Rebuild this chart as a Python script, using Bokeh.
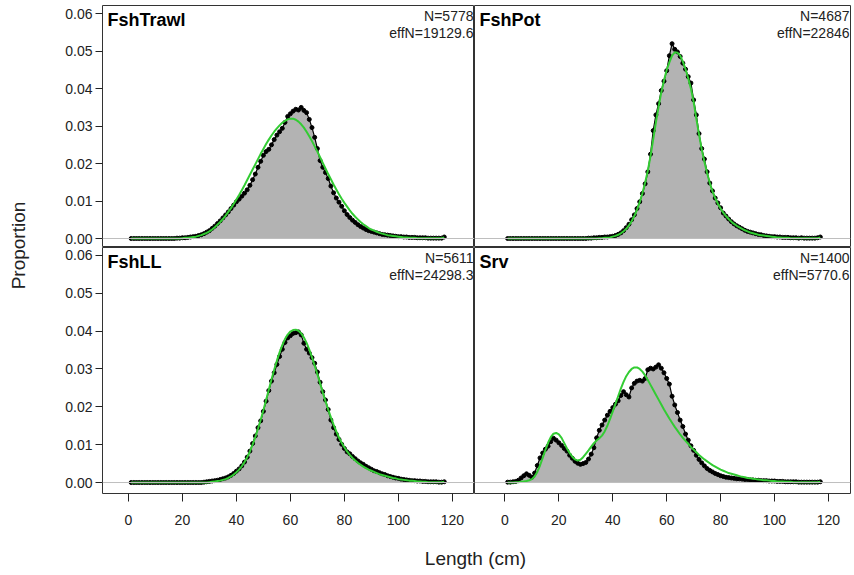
from bokeh.plotting import figure
from bokeh.layouts import row, column
from bokeh.models import Span, Label, FixedTicker, PrintfTickFormatter, Range1d
from bokeh.embed import file_html
from bokeh.resources import INLINE

lengths = list(range(1, 118))
fleets = ["FshTrawl", "FshPot", "FshLL", "Srv"]
n_samples = [5778, 4687, 5611, 1400]
eff_n = [19129.6, 22846, 24298.3, 5770.6]
x_ticks = [0, 20, 40, 60, 80, 100, 120]
y_ticks = [0.00, 0.01, 0.02, 0.03, 0.04, 0.05, 0.06]

trawl_obs = [
    0, 0, 0, 0, 0, 0, 0, 0, 0, 0,
    0, 0, 0, 0, 0, 0, 0, 0.0001, 0.0001, 0.0002,
    0.0002, 0.0003, 0.0004, 0.0005, 0.0006, 0.0008, 0.0010, 0.0013, 0.0017, 0.0021,
    0.0027, 0.0033, 0.0040, 0.0047, 0.0055, 0.0063, 0.0071, 0.0080, 0.0089, 0.0098,
    0.0105, 0.0113, 0.0121, 0.0130, 0.0142, 0.0157, 0.0172, 0.0190, 0.0206, 0.0222,
    0.0232, 0.0238, 0.0250, 0.0264, 0.0276, 0.0285, 0.0294, 0.0310, 0.0326, 0.0333,
    0.0340, 0.0345, 0.0343, 0.0350, 0.0342, 0.0336, 0.0318, 0.0296, 0.0270, 0.0240,
    0.0208, 0.0190, 0.0176, 0.0160, 0.0140, 0.0122, 0.0108, 0.0097, 0.0086, 0.0074,
    0.0064, 0.0056, 0.0049, 0.0043, 0.0037, 0.0032, 0.0028, 0.0024, 0.0021, 0.0019,
    0.0017, 0.0015, 0.0013, 0.0011, 0.0010, 0.0009, 0.0008, 0.0007, 0.0006, 0.0005,
    0.0005, 0.0004, 0.0004, 0.0003, 0.0003, 0.0003, 0.0002, 0.0002, 0.0002, 0.0002,
    0.0001, 0.0001, 0.0001, 0.0001, 0.0001, 0.0001, 0.0004,
]
trawl_exp = [
    0, 0, 0, 0, 0, 0, 0, 0, 0, 0,
    0, 0, 0, 0, 0, 0, 0, 0, 0, 0.0001,
    0.0002, 0.0002, 0.0003, 0.0004, 0.0005, 0.0007, 0.0009, 0.0012, 0.0015, 0.0019,
    0.0024, 0.0030, 0.0037, 0.0044, 0.0052, 0.0061, 0.0071, 0.0081, 0.0092, 0.0104,
    0.0116, 0.0129, 0.0142, 0.0156, 0.0170, 0.0184, 0.0198, 0.0212, 0.0226, 0.0239,
    0.0252, 0.0264, 0.0275, 0.0285, 0.0294, 0.0302, 0.0309, 0.0314, 0.0318, 0.0320,
    0.0320, 0.0317, 0.0312, 0.0305, 0.0296, 0.0285, 0.0273, 0.0260, 0.0246, 0.0232,
    0.0217, 0.0202, 0.0187, 0.0172, 0.0158, 0.0144, 0.0131, 0.0118, 0.0106, 0.0095,
    0.0085, 0.0075, 0.0066, 0.0058, 0.0051, 0.0044, 0.0038, 0.0033, 0.0028, 0.0024,
    0.0021, 0.0018, 0.0015, 0.0013, 0.0011, 0.0009, 0.0008, 0.0007, 0.0006, 0.0005,
    0.0004, 0.0003, 0.0003, 0.0002, 0.0002, 0.0002, 0.0001, 0.0001, 0.0001, 0.0001,
    0.0001, 0.0001, 0.0001, 0.0001, 0.0001, 0.0001, 0.0003,
]
pot_obs = [
    0, 0, 0, 0, 0, 0, 0, 0, 0, 0,
    0, 0, 0, 0, 0, 0, 0, 0, 0, 0,
    0, 0, 0, 0, 0, 0, 0, 0, 0, 0,
    0.0001, 0.0001, 0.0002, 0.0002, 0.0003, 0.0003, 0.0004, 0.0004, 0.0005, 0.0006,
    0.0008, 0.0011, 0.0015, 0.0021, 0.0029, 0.0038, 0.0050, 0.0063, 0.0080, 0.0098,
    0.0120, 0.0146, 0.0178, 0.0225, 0.0288, 0.0330, 0.0360, 0.0395, 0.0420, 0.0448,
    0.0488, 0.0520, 0.0505, 0.0498, 0.0486, 0.0468, 0.0452, 0.0432, 0.0415, 0.0370,
    0.0330, 0.0280, 0.0240, 0.0212, 0.0178, 0.0148, 0.0127, 0.0108, 0.0095, 0.0082,
    0.0068, 0.0060, 0.0052, 0.0045, 0.0039, 0.0034, 0.0030, 0.0026, 0.0022, 0.0019,
    0.0017, 0.0015, 0.0013, 0.0011, 0.0010, 0.0008, 0.0007, 0.0006, 0.0005, 0.0005,
    0.0004, 0.0004, 0.0003, 0.0003, 0.0003, 0.0002, 0.0002, 0.0002, 0.0001, 0.0002,
    0.0001, 0.0001, 0.0001, 0.0001, 0.0001, 0.0002, 0.0004,
]
pot_exp = [
    0, 0, 0, 0, 0, 0, 0, 0, 0, 0,
    0, 0, 0, 0, 0, 0, 0, 0, 0, 0,
    0, 0, 0, 0, 0, 0, 0, 0, 0, 0,
    0, 0, 0, 0, 0.0001, 0.0001, 0.0002, 0.0002, 0.0003, 0.0005,
    0.0007, 0.0010, 0.0014, 0.0019, 0.0026, 0.0035, 0.0046, 0.0060, 0.0077, 0.0097,
    0.0121, 0.0149, 0.0181, 0.0220, 0.0265, 0.0310, 0.0352, 0.0390, 0.0422, 0.0450,
    0.0470, 0.0488, 0.0497, 0.0496, 0.0488, 0.0472, 0.0452, 0.0428, 0.0400, 0.0365,
    0.0320, 0.0278, 0.0238, 0.0205, 0.0175, 0.0148, 0.0126, 0.0108, 0.0093, 0.0080,
    0.0069, 0.0060, 0.0052, 0.0045, 0.0039, 0.0034, 0.0030, 0.0026, 0.0022, 0.0019,
    0.0016, 0.0014, 0.0012, 0.0010, 0.0009, 0.0008, 0.0007, 0.0006, 0.0005, 0.0004,
    0.0003, 0.0003, 0.0002, 0.0002, 0.0002, 0.0001, 0.0001, 0.0001, 0.0001, 0.0001,
    0.0001, 0.0001, 0.0001, 0.0001, 0.0001, 0.0001, 0.0003,
]
ll_obs = [
    0, 0, 0, 0, 0, 0, 0, 0, 0, 0,
    0, 0, 0, 0, 0, 0, 0, 0, 0, 0,
    0, 0, 0, 0, 0, 0, 0, 0.0001, 0.0002, 0.0003,
    0.0004, 0.0005, 0.0006, 0.0008, 0.0010, 0.0012, 0.0015, 0.0019, 0.0024, 0.0030,
    0.0036, 0.0044, 0.0054, 0.0067, 0.0083, 0.0103, 0.0123, 0.0145, 0.0163, 0.0188,
    0.0215, 0.0243, 0.0268, 0.0290, 0.0312, 0.0333, 0.0352, 0.0370, 0.0382, 0.0388,
    0.0394, 0.0396, 0.0398, 0.0390, 0.0368, 0.0352, 0.0342, 0.0330, 0.0315, 0.0292,
    0.0265, 0.0240, 0.0218, 0.0193, 0.0165, 0.0145, 0.0128, 0.0114, 0.0101, 0.0090,
    0.0081, 0.0076, 0.0069, 0.0063, 0.0057, 0.0052, 0.0048, 0.0043, 0.0039, 0.0035,
    0.0031, 0.0029, 0.0026, 0.0023, 0.0021, 0.0018, 0.0016, 0.0014, 0.0012, 0.0011,
    0.0009, 0.0008, 0.0007, 0.0006, 0.0005, 0.0005, 0.0004, 0.0004, 0.0003, 0.0003,
    0.0002, 0.0002, 0.0002, 0.0002, 0.0001, 0.0001, 0.0002,
]
ll_exp = [
    0, 0, 0, 0, 0, 0, 0, 0, 0, 0,
    0, 0, 0, 0, 0, 0, 0, 0, 0, 0,
    0, 0, 0, 0, 0, 0, 0, 0, 0, 0.0001,
    0.0002, 0.0003, 0.0004, 0.0005, 0.0007, 0.0009, 0.0012, 0.0016, 0.0021, 0.0027,
    0.0034, 0.0043, 0.0054, 0.0067, 0.0082, 0.0100, 0.0120, 0.0142, 0.0166, 0.0191,
    0.0218, 0.0245, 0.0272, 0.0298, 0.0322, 0.0344, 0.0363, 0.0379, 0.0391, 0.0399,
    0.0403, 0.0404, 0.0401, 0.0394, 0.0383, 0.0369, 0.0351, 0.0331, 0.0309, 0.0286,
    0.0262, 0.0238, 0.0215, 0.0193, 0.0172, 0.0153, 0.0135, 0.0119, 0.0105, 0.0093,
    0.0082, 0.0073, 0.0065, 0.0058, 0.0052, 0.0047, 0.0042, 0.0038, 0.0034, 0.0031,
    0.0028, 0.0025, 0.0022, 0.0020, 0.0018, 0.0016, 0.0014, 0.0012, 0.0011, 0.0009,
    0.0008, 0.0007, 0.0006, 0.0005, 0.0005, 0.0004, 0.0003, 0.0003, 0.0002, 0.0002,
    0.0001, 0.0001, 0.0001, 0.0001, 0.0001, 0.0001, 0.0002,
]
srv_obs = [
    0.0001, 0.0001, 0.0002, 0.0003, 0.0006, 0.0012, 0.0018, 0.0023, 0.0019, 0.0014,
    0.0025, 0.0045, 0.0065, 0.0078, 0.0088, 0.0096, 0.0108, 0.0117, 0.0112, 0.0105,
    0.0098, 0.0090, 0.0083, 0.0072, 0.0064, 0.0056, 0.0051, 0.0048, 0.0050, 0.0053,
    0.0062, 0.0075, 0.0092, 0.0118, 0.0138, 0.0152, 0.0165, 0.0178, 0.0188, 0.0198,
    0.0207, 0.0216, 0.0230, 0.0240, 0.0232, 0.0226, 0.0250, 0.0262, 0.0268, 0.0270,
    0.0268, 0.0275, 0.0298, 0.0302, 0.0300, 0.0305, 0.0311, 0.0302, 0.0290, 0.0275,
    0.0260, 0.0228, 0.0205, 0.0185, 0.0165, 0.0148, 0.0128, 0.0112, 0.0097, 0.0085,
    0.0072, 0.0061, 0.0052, 0.0044, 0.0037, 0.0032, 0.0028, 0.0024, 0.0021, 0.0018,
    0.0016, 0.0014, 0.0013, 0.0012, 0.0011, 0.0010, 0.0010, 0.0009, 0.0008, 0.0008,
    0.0007, 0.0007, 0.0006, 0.0006, 0.0005, 0.0005, 0.0005, 0.0004, 0.0004, 0.0004,
    0.0003, 0.0003, 0.0003, 0.0002, 0.0002, 0.0002, 0.0002, 0.0002, 0.0001, 0.0001,
    0.0001, 0.0001, 0.0001, 0.0001, 0.0001, 0.0001, 0.0002,
]
srv_exp = [
    0, 0, 0, 0.0001, 0.0001, 0.0002, 0.0003, 0.0004, 0.0006, 0.0009,
    0.0016, 0.0028, 0.0045, 0.0065, 0.0086, 0.0105, 0.0120, 0.0129, 0.0131, 0.0127,
    0.0118, 0.0104, 0.0090, 0.0078, 0.0068, 0.0061, 0.0058, 0.0060, 0.0067, 0.0076,
    0.0085, 0.0095, 0.0104, 0.0111, 0.0117, 0.0124, 0.0135, 0.0150, 0.0168, 0.0188,
    0.0208, 0.0228, 0.0248, 0.0266, 0.0281, 0.0292, 0.0300, 0.0304, 0.0304, 0.0300,
    0.0293, 0.0283, 0.0271, 0.0258, 0.0245, 0.0232, 0.0219, 0.0206, 0.0193, 0.0181,
    0.0169, 0.0158, 0.0147, 0.0137, 0.0127, 0.0118, 0.0110, 0.0102, 0.0094, 0.0087,
    0.0080, 0.0073, 0.0067, 0.0061, 0.0056, 0.0051, 0.0046, 0.0042, 0.0038, 0.0034,
    0.0031, 0.0028, 0.0025, 0.0023, 0.0021, 0.0019, 0.0017, 0.0015, 0.0014, 0.0012,
    0.0011, 0.0010, 0.0009, 0.0008, 0.0007, 0.0006, 0.0006, 0.0005, 0.0004, 0.0004,
    0.0003, 0.0003, 0.0003, 0.0002, 0.0002, 0.0002, 0.0001, 0.0001, 0.0001, 0.0001,
    0.0001, 0.0001, 0.0001, 0.0001, 0.0001, 0.0001, 0.0002,
]

FONT = "Liberation Sans"
FILL = "#B3B3B3"
GREEN = "#33CC33"


def panel(obs, exp, name, n, effn, left, top, xr, frame_w, right_pad):
    yr = (-0.0024, 0.0622) if top else (-0.0029, 0.0621)
    lb = 62 if left else 0
    tb = 5 if top else 0
    bb = 0 if top else 40
    frame_h = 242 if top else 246
    p = figure(width=lb + frame_w + right_pad, height=tb + frame_h + bb,
               x_range=Range1d(*xr), y_range=Range1d(*yr),
               output_backend="svg", toolbar_location=None,
               x_axis_location=None if top else "below",
               y_axis_location="left" if left else None,
               min_border=0, min_border_left=lb, min_border_top=tb,
               min_border_bottom=bb, min_border_right=right_pad)
    p.grid.visible = False
    p.outline_line_color = "#333333"
    p.outline_line_width = 1
    p.background_fill_color = "white"
    p.border_fill_color = "white"
    p.add_layout(Span(location=0, dimension="width", line_color="#BEBEBE", line_width=1))
    p.varea(x=lengths, y1=[0] * len(lengths), y2=obs, fill_color=FILL)
    p.line(lengths, obs, line_color="black", line_width=1.2)
    p.scatter(lengths, obs, size=4, fill_color="black", line_color="black")
    p.line(lengths, exp, line_color=GREEN, line_width=2)
    p.add_layout(Label(x=xr[0], y=yr[1], x_offset=5, y_offset=-14, text=name,
                       text_font=FONT, text_font_size="18px", text_font_style="bold",
                       text_color="black", text_baseline="alphabetic"))
    p.add_layout(Label(x=xr[1], y=yr[1], x_offset=-1, y_offset=-10, text=f"N={n}",
                       text_font=FONT, text_font_size="14px", text_color="#222222",
                       text_align="right", text_baseline="alphabetic"))
    p.add_layout(Label(x=xr[1], y=yr[1], x_offset=-1, y_offset=-27, text=f"effN={effn:g}",
                       text_font=FONT, text_font_size="14px", text_color="#222222",
                       text_align="right", text_baseline="alphabetic"))
    if left:
        ax = p.yaxis[0]
        ax.ticker = FixedTicker(ticks=y_ticks)
        ax.formatter = PrintfTickFormatter(format="%.2f")
        ax.axis_line_color = None
        ax.major_tick_line_color = "#222222"
        ax.major_tick_out = 7
        ax.major_tick_in = 0
        ax.minor_tick_line_color = None
        ax.major_label_standoff = 3
        ax.major_label_text_font = FONT
        ax.major_label_text_font_size = "14px"
        ax.major_label_text_color = "#222222"
    if not top:
        ax = p.xaxis[0]
        ax.ticker = FixedTicker(ticks=x_ticks)
        ax.axis_line_color = None
        ax.major_tick_line_color = "#222222"
        ax.major_tick_out = 8
        ax.major_tick_in = 0
        ax.minor_tick_line_color = None
        ax.major_label_standoff = 13
        ax.major_label_text_font = FONT
        ax.major_label_text_font_size = "14px"
        ax.major_label_text_color = "#222222"
    return p


xr_left = (-9.6, 128.2)
xr_right = (-11.3, 128.2)
p1 = panel(trawl_obs, trawl_exp, fleets[0], n_samples[0], eff_n[0], True, True, xr_left, 372, 0)
p2 = panel(pot_obs, pot_exp, fleets[1], n_samples[1], eff_n[1], False, True, xr_right, 376, 4)
p3 = panel(ll_obs, ll_exp, fleets[2], n_samples[2], eff_n[2], True, False, xr_left, 372, 0)
p4 = panel(srv_obs, srv_exp, fleets[3], n_samples[3], eff_n[3], False, False, xr_right, 376, 4)


def blank(w, h):
    b = figure(width=w, height=h, x_range=Range1d(0, 1), y_range=Range1d(0, 1),
               output_backend="svg", toolbar_location=None,
               x_axis_location=None, y_axis_location=None, min_border=0)
    b.grid.visible = False
    b.outline_line_color = None
    return b


ylab = blank(40, 575)
ylab.add_layout(Label(x=0.45, y=(575 - 245) / 575, text="Proportion", angle=1.5708,
                      text_font=FONT, text_font_size="19px", text_color="#222222",
                      text_align="center", text_baseline="middle"))
xlab = blank(814, 42)
xlab.add_layout(Label(x=(475 - 40) / 814, y=0.4, text="Length (cm)",
                      text_font=FONT, text_font_size="19px", text_color="#222222",
                      text_align="center", text_baseline="middle"))

layout = row(ylab, column(row(p1, p2), row(p3, p4), xlab))
open("out.html", "w").write(file_html(layout, INLINE))
